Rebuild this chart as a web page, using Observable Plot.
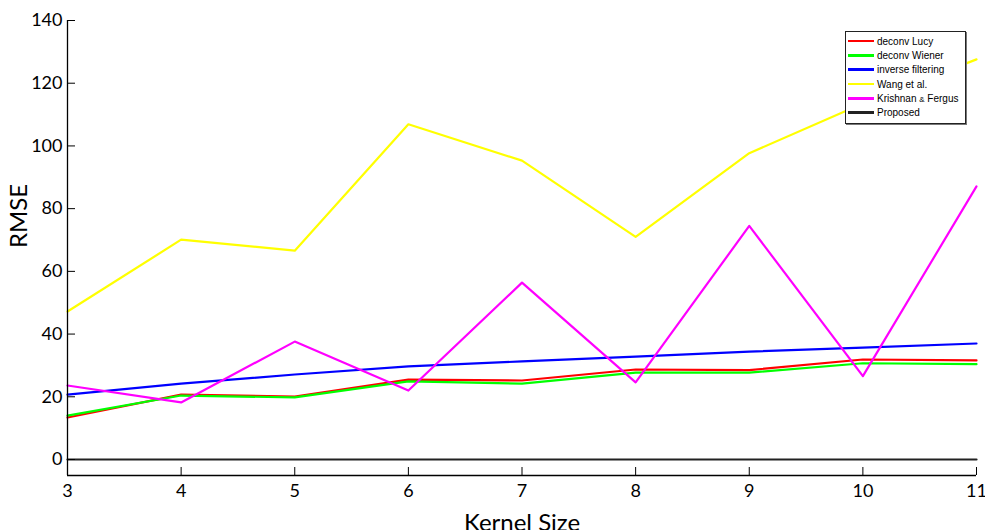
<!DOCTYPE html>
<html>
<head>
<meta charset="utf-8">
<script src="https://cdn.jsdelivr.net/npm/d3@7"></script>
<script src="https://cdn.jsdelivr.net/npm/@observablehq/plot@0.6"></script>
<style>
  body { margin: 0; background: #fff; }
  #wrap { position: relative; width: 985px; height: 530px; overflow: hidden; }
  #legend {
    position: absolute; left: 845px; top: 31px; width: 119px;
    border: 1px solid #222; background: #fff;
    box-shadow: 1px 1px 0 #777;
    font-family: "Liberation Sans", Arial, sans-serif; font-size: 10px; color: #000;
    padding: 2px 0 3px 0;
  }
  .row { display: flex; align-items: center; height: 14.3px; white-space: nowrap; }
  .sw { width: 26px; height: 2.5px; margin-left: 2px; margin-right: 3px; flex: none; }
  .amp { font-size: 8px; }
  svg text { font-family: "Lato", sans-serif; }
</style>
</head>
<body>
<div id="wrap"></div>
<script>
const kernelSizes = [3, 4, 5, 6, 7, 8, 9, 10, 11];
const lucy     = [13.4, 20.7, 20.1, 25.5, 25.2, 28.7, 28.5, 31.9, 31.6];
const wiener   = [14.0, 20.4, 19.8, 24.9, 24.2, 27.7, 27.7, 30.7, 30.4];
const inverse  = [20.7, 24.2, 27.1, 29.7, 31.3, 32.8, 34.4, 35.7, 37.0];
const wang     = [47.2, 70.1, 66.6, 106.9, 95.3, 71.0, 97.7, 113.5, 127.6];
const krishnan = [23.6, 18.2, 37.6, 22.0, 56.4, 24.6, 74.5, 26.6, 87.1];
const proposed = [0, 0, 0, 0, 0, 0, 0, 0, 0];

const seriesNames  = ["deconv Lucy", "deconv Wiener", "inverse filtering", "Wang et al.", "Krishnan & Fergus", "Proposed"];
const seriesValues = [lucy, wiener, inverse, wang, krishnan, proposed];
const seriesColors = ["#ff0000", "#00ff00", "#0000ff", "#ffff00", "#ff00ff", "#222222"];

const yTicks = [0, 20, 40, 60, 80, 100, 120, 140];
const xTicks = kernelSizes;

const rows = seriesValues.map((vals, i) => kernelSizes.map((k, j) => ({k, v: vals[j], s: seriesNames[i]})));

const chart = Plot.plot({
  width: 985,
  height: 530,
  marginLeft: 67,
  marginRight: 9,
  marginTop: 20,
  marginBottom: 55,
  style: {fontFamily: "Lato, sans-serif", fontSize: "18px", color: "#000", background: "#fff", overflow: "visible"},
  x: {domain: [3, 11]},
  y: {domain: [-5.1, 140]},
  marks: [
    ...rows.map((r, i) => Plot.line(r, {x: "k", y: "v", stroke: seriesColors[i], strokeWidth: 2.2})),
    Plot.ruleX([3], {stroke: "#000", strokeWidth: 1.3}),
    Plot.ruleY([-5.1], {stroke: "#000", strokeWidth: 1.3}),
    Plot.axisY(yTicks, {tickSize: -8, tickPadding: 13, label: null, stroke: "#000", tickFormat: "d", fontFamily: "Lato"}),
    Plot.axisX(xTicks, {tickSize: -8, tickPadding: 17, label: null, stroke: "#000", tickFormat: "d", fontFamily: "Lato"}),
    Plot.text(["RMSE"], {frameAnchor: "left", rotate: -90, dx: -48, fontSize: 24, fontFamily: "Liberation Sans, Arial, sans-serif"}),
    Plot.text(["Kernel Size"], {frameAnchor: "bottom", dy: 55, fontSize: 24, fontFamily: "Liberation Sans, Arial, sans-serif"})
  ]
});

const wrap = document.getElementById("wrap");
wrap.appendChild(chart);

const legend = document.createElement("div");
legend.id = "legend";
seriesNames.forEach((name, i) => {
  const row = document.createElement("div");
  row.className = "row";
  const sw = document.createElement("div");
  sw.className = "sw";
  sw.style.background = seriesColors[i];
  const t = document.createElement("span");
  const parts = name.split("&");
  t.appendChild(document.createTextNode(parts[0]));
  if (parts.length > 1) {
    const a = document.createElement("span");
    a.className = "amp";
    a.textContent = "&";
    t.appendChild(a);
    t.appendChild(document.createTextNode(parts[1]));
  }
  row.appendChild(sw);
  row.appendChild(t);
  legend.appendChild(row);
});
wrap.appendChild(legend);
</script>
</body>
</html>
